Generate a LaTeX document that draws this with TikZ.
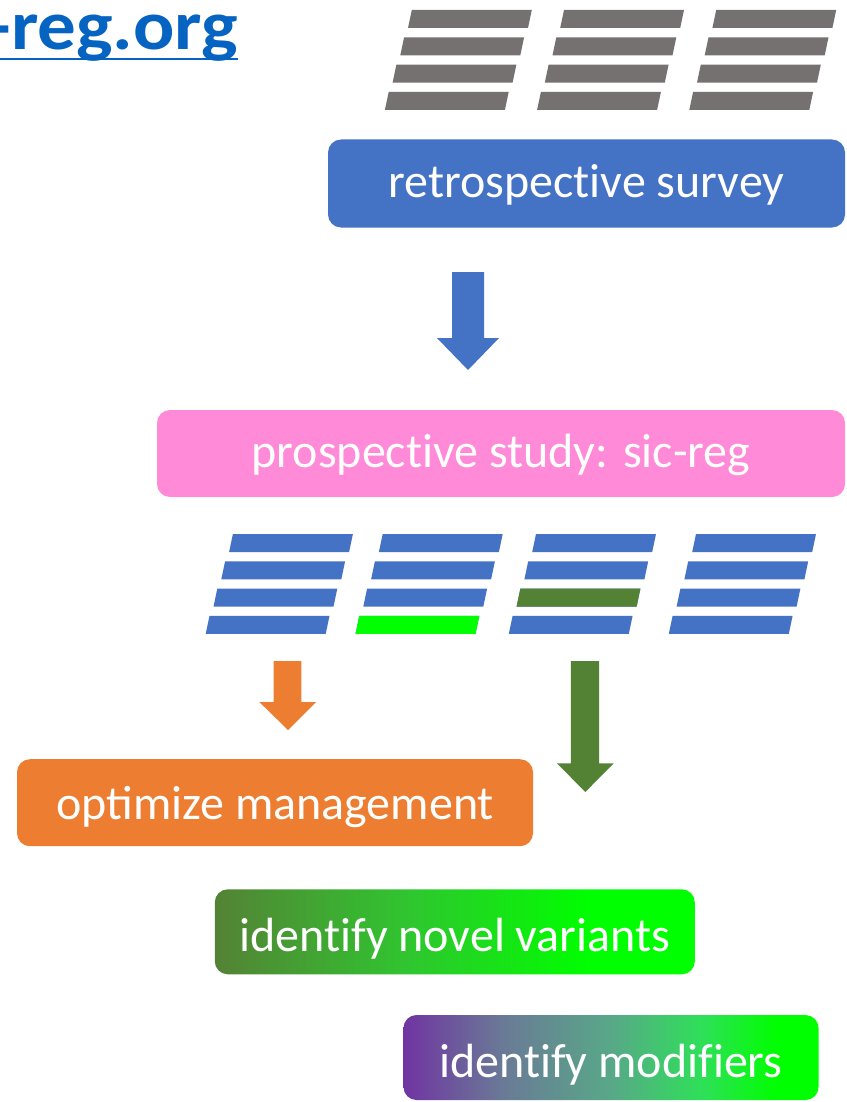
\documentclass[tikz,border=0pt]{standalone}
\usepackage{fontspec}
\setmainfont[Ligatures=NoCommon]{Carlito}
\newfontfamily\ligfont{Carlito}
\newfontfamily\titlefont[FakeStretch=1.1]{Carlito}
\definecolor{barGray}{HTML}{767171}
\definecolor{boxBlue}{HTML}{4472C4}
\definecolor{boxPink}{HTML}{FF8AD8}
\definecolor{boxOrange}{HTML}{ED7D31}
\definecolor{dkGreen}{HTML}{548235}
\definecolor{ltGreen}{HTML}{00FF00}
\definecolor{midGreen}{HTML}{30C530}
\definecolor{linkBlue}{HTML}{0563C1}
\definecolor{modPurple}{HTML}{7034A2}
\definecolor{modGrey}{HTML}{6A7A96}
\definecolor{modTeal}{HTML}{58A888}
\definecolor{modLime}{HTML}{2EE058}
\pgfdeclarehorizontalshading{novelshade}{100bp}{color(0bp)=(dkGreen); color(25bp)=(dkGreen); color(45bp)=(midGreen); color(64bp)=(ltGreen); color(100bp)=(ltGreen)}
\pgfdeclarehorizontalshading{modshade}{100bp}{color(0bp)=(modPurple); color(25bp)=(modPurple); color(37bp)=(modGrey); color(50bp)=(modTeal); color(61bp)=(modLime); color(70bp)=(ltGreen); color(100bp)=(ltGreen)}
\newcommand\pbar[3]{\fill[#3] (#1,#2) -- ++(120,0) -- ++(-3.8,18) -- ++(-120,0) -- cycle;}
\tikzset{
  box/.style={rounded corners=13pt, text=white, font=\fontsize{48}{56}\selectfont, inner sep=0pt, align=center, text depth=8pt}
}
\begin{document}
\begin{tikzpicture}[x=1pt,y=-1pt]
\useasboundingbox (0,0) rectangle (846,1102);
\fill[white] (0,0) rectangle (846,1102);
% title
\node[anchor=base east, inner sep=0pt, text=linkBlue, font=\titlefont\fontsize{70}{80}\bfseries\selectfont] (title) at (238,50) {-reg.org};
\coordinate (ul) at (0,59);
\draw[linkBlue, line width=2.4pt] (ul) -- (ul -| title.east);
% gray bars
\foreach \c in {0,1,2}{
  \foreach \r in {0,1,2,3}{
    \pbar{411.8+152.2*\c-7.7*\r}{10+27.3*\r}{barGray}
  }
}
% retrospective box
\node[box, fill=boxBlue, minimum width=517, minimum height=88, text height=35.6pt] (retro) at (586.5,183.5) {retrospective survey};
% blue arrow
\fill[boxBlue] (452,272) -- (484,272) -- (484,338) -- (499,338) -- (468,370) -- (437,338) -- (452,338) -- cycle;
% pink box
\node[box, fill=boxPink, minimum width=688, minimum height=87, text height=35pt] (prosp) at (501,453.5) {prospective study: sic-reg};
% blue bars
\foreach \x in {232.9,382.7,536,696}{
  \foreach \r in {0,1,2,3}{
    \pbar{\x-7.8*\r}{534+27.3*\r}{boxBlue}
  }
}
\pbar{382.7-7.8*3}{534+27.3*3}{ltGreen}
\pbar{536-7.8*2}{534+27.3*2}{dkGreen}
% orange arrow
\fill[boxOrange] (273.7,661) -- (301.4,661) -- (301.4,702) -- (316,702) -- (288,730) -- (259.4,702) -- (273.7,702) -- cycle;
% green arrow
\fill[dkGreen] (570.8,661) -- (599,661) -- (599,763.3) -- (613.7,763.3) -- (585.3,792) -- (557,763.3) -- (570.8,763.3) -- cycle;
% orange box
\node[box, fill=boxOrange, minimum width=516, minimum height=87, text height=40.6pt] (optim) at (275,802.7) {\ligfont optimize management};
% novel variants
\node[box, shading=novelshade, minimum width=480, minimum height=85, text height=48pt] (novel) at (454.8,931.8) {identify novel variants};
% modifiers
\node[box, shading=modshade, minimum width=415, minimum height=85, text height=48pt] (modif) at (611,1057.5) {identify modifiers};
\end{tikzpicture}
\end{document}
